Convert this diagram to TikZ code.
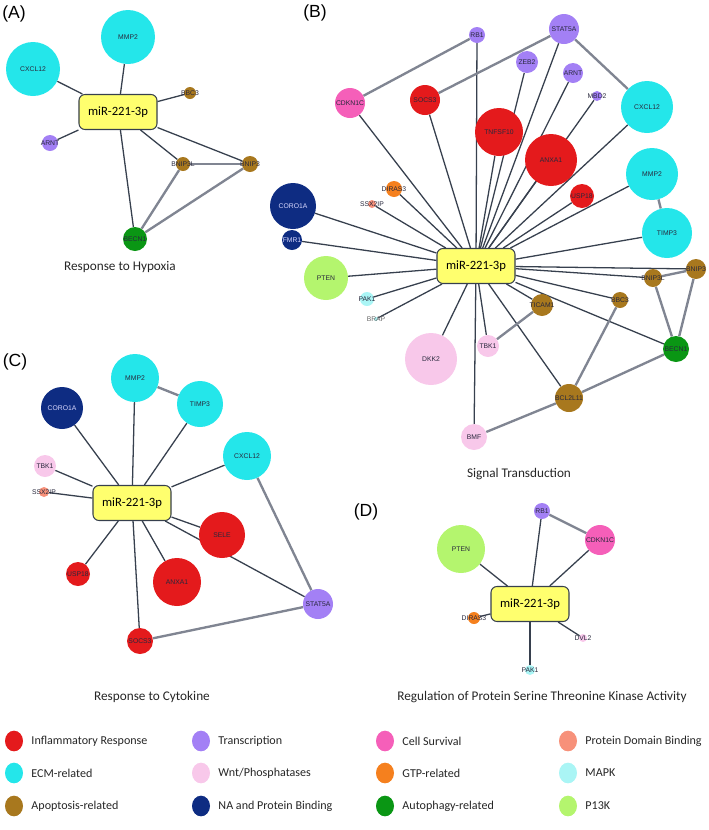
\documentclass[tikz,border=0pt]{standalone}
\usepackage{fontspec}
\setmainfont{Carlito}
\newfontfamily\arialfont{Liberation Sans}
\usetikzlibrary{positioning,backgrounds,shapes.geometric}
\definecolor{inflred}{RGB}{228,26,28}
\definecolor{ecmcyan}{RGB}{36,230,234}
\definecolor{apopbrown}{RGB}{168,120,30}
\definecolor{transpurple}{RGB}{163,128,245}
\definecolor{wntpink}{RGB}{248,200,234}
\definecolor{nablue}{RGB}{14,44,130}
\definecolor{survpink}{RGB}{245,95,185}
\definecolor{gtporange}{RGB}{245,128,30}
\definecolor{autogreen}{RGB}{10,150,20}
\definecolor{pdbsalmon}{RGB}{247,145,122}
\definecolor{mapkcyan}{RGB}{170,245,245}
\definecolor{pikgreen}{RGB}{180,245,110}
\definecolor{hubfill}{RGB}{255,255,110}
\definecolor{hubline}{RGB}{55,64,78}
\definecolor{linkgray}{RGB}{128,133,146}
\definecolor{genetext}{RGB}{40,40,60}
\tikzset{
  hub/.style={rectangle, rounded corners=0.18cm, draw=hubline, line width=0.9pt,
              fill=hubfill, minimum width=2.34cm, minimum height=1.05cm,
              font=\fontsize{10.8}{12}\selectfont},
  gene/.style={circle, inner sep=0pt, fill=#1},
  rad/.style={minimum size=#1*0.06cm},
  glabel/.style={inner sep=0pt, font=\arialfont\fontsize{5.8}{6}\selectfont, text=genetext},
  hubedge/.style={draw=hubline, line width=1.1pt},
  link/.style={draw=linkgray, line width=2pt},
  paneltag/.style={font=\arialfont\fontsize{15}{16}\selectfont},
  title/.style={font=\fontsize{11.3}{13}\selectfont, text=black!85},
  legdot/.style={ellipse, inner sep=0pt, minimum width=0.54cm, minimum height=0.62cm, fill=#1},
  legtext/.style={inner sep=0pt, font=\fontsize{10.3}{12}\selectfont, text=black!85},
}
\begin{document}
\begin{tikzpicture}[x=0.03cm, y=-0.03cm]
\useasboundingbox (0,0) rectangle (709,830);

% -------------------- (A) Response to Hypoxia --------------------
\node[paneltag] (tag-a) at (14,14) {(A)};
\node[hub] (a-hub) at (118,112) {miR-221-3p};
\node[gene=ecmcyan, rad=27, label={[glabel]center:MMP2}] (a-mmp2) at (128,37) {};
\node[gene=ecmcyan, rad=27, label={[glabel]center:CXCL12}] (a-cxcl12) at (33,69) {};
\node[gene=apopbrown, rad=6, label={[glabel]center:BBC3}] (a-bbc3) at (190,93) {};
\node[gene=transpurple, rad=8, label={[glabel]center:ARNT}] (a-arnt) at (50,143) {};
\node[gene=apopbrown, rad=7, label={[glabel]center:BNIP3L}] (a-bnip3l) at (183,164) {};
\node[gene=apopbrown, rad=8, label={[glabel]center:BNIP3}] (a-bnip3) at (250,164) {};
\node[gene=autogreen, rad=12, label={[glabel]center:BECN1}] (a-becn1) at (135,239) {};
\node[title] (title-a) at (120,267) {Response to Hypoxia};

% -------------------- (B) Signal Transduction --------------------
\node[paneltag] (tag-b) at (315,13) {(B)};
\node[hub] (b-hub) at (476,266) {miR-221-3p};
\node[gene=transpurple, rad=8, label={[glabel]center:RB1}] (b-rb1) at (477,35) {};
\node[gene=transpurple, rad=15, label={[glabel]center:STAT5A}] (b-stat5a) at (564,29) {};
\node[gene=transpurple, rad=11, label={[glabel]center:ZEB2}] (b-zeb2) at (527,62) {};
\node[gene=transpurple, rad=10, label={[glabel]center:ARNT}] (b-arnt) at (573,73) {};
\node[gene=transpurple, rad=5, label={[glabel]center:MBD2}] (b-mbd2) at (597,96) {};
\node[gene=ecmcyan, rad=26, label={[glabel]center:CXCL12}] (b-cxcl12) at (647,107) {};
\node[gene=inflred, rad=24, label={[glabel]center:TNFSF10}] (b-tnfsf10) at (499,132) {};
\node[gene=inflred, rad=26, label={[glabel]center:ANXA1}] (b-anxa1) at (551,160) {};
\node[gene=inflred, rad=12, label={[glabel]center:USP18}] (b-usp18) at (582,196) {};
\node[gene=ecmcyan, rad=26, label={[glabel]center:MMP2}] (b-mmp2) at (652,174) {};
\node[gene=ecmcyan, rad=25, label={[glabel]center:TIMP3}] (b-timp3) at (667,233) {};
\node[gene=survpink, rad=15, label={[glabel]center:CDKN1C}] (b-cdkn1c) at (350,103) {};
\node[gene=inflred, rad=15, label={[glabel]center:SOCS3}] (b-socs3) at (425,100) {};
\node[gene=gtporange, rad=8, label={[glabel]center:DIRAS3}] (b-diras3) at (394,189) {};
\node[gene=pdbsalmon, rad=4, label={[glabel]center:SSX2IP}] (b-ssx2ip) at (372,204) {};
\node[gene=nablue, rad=23, label={[glabel, text=white!85!blue]center:CORO1A}] (b-coro1a) at (293,206) {};
\node[gene=nablue, rad=10, label={[glabel, text=white!85!blue]center:FMR1}] (b-fmr1) at (292,240) {};
\node[gene=pikgreen, rad=22, label={[glabel]center:PTEN}] (b-pten) at (326,278) {};
\node[gene=mapkcyan, rad=7, label={[glabel]center:PAK1}] (b-pak1) at (367,299) {};
\node[gene=mapkcyan, rad=2, label={[glabel, text=black!60]center:BRAP}] (b-brap) at (376,319) {};
\node[gene=wntpink, rad=26, label={[glabel]center:DKK2}] (b-dkk2) at (431,359) {};
\node[gene=wntpink, rad=11, label={[glabel]center:TBK1}] (b-tbk1) at (488,346) {};
\node[gene=apopbrown, rad=11, label={[glabel]center:TICAM1}] (b-ticam1) at (542,305) {};
\node[gene=apopbrown, rad=8, label={[glabel]center:BBC3}] (b-bbc3) at (620,300) {};
\node[gene=apopbrown, rad=9, label={[glabel]center:BNIP3L}] (b-bnip3l) at (653,278) {};
\node[gene=apopbrown, rad=10, label={[glabel]center:BNIP3}] (b-bnip3) at (696,269) {};
\node[gene=autogreen, rad=13, label={[glabel]center:BECN1}] (b-becn1) at (676,349) {};
\node[gene=apopbrown, rad=14, label={[glabel]center:BCL2L11}] (b-bcl2l11) at (569,398) {};
\node[gene=wntpink, rad=13, label={[glabel]center:BMF}] (b-bmf) at (474,437) {};
\node[title] (title-b) at (519,474) {Signal Transduction};

% -------------------- (C) Response to Cytokine --------------------
\node[paneltag] (tag-c) at (15,362) {(C)};
\node[hub] (c-hub) at (132,503) {miR-221-3p};
\node[gene=ecmcyan, rad=24, label={[glabel]center:MMP2}] (c-mmp2) at (135,378) {};
\node[gene=ecmcyan, rad=23, label={[glabel]center:TIMP3}] (c-timp3) at (200,404) {};
\node[gene=nablue, rad=21, label={[glabel, text=white!85!blue]center:CORO1A}] (c-coro1a) at (62,408) {};
\node[gene=ecmcyan, rad=24, label={[glabel]center:CXCL12}] (c-cxcl12) at (247,456) {};
\node[gene=wntpink, rad=11, label={[glabel]center:TBK1}] (c-tbk1) at (45,466) {};
\node[gene=pdbsalmon, rad=5, label={[glabel]center:SSX2IP}] (c-ssx2ip) at (44,492) {};
\node[gene=inflred, rad=23, label={[glabel]center:SELE}] (c-sele) at (222,535) {};
\node[gene=inflred, rad=12, label={[glabel]center:USP18}] (c-usp18) at (78,574) {};
\node[gene=inflred, rad=24, label={[glabel]center:ANXA1}] (c-anxa1) at (177,582) {};
\node[gene=transpurple, rad=15, label={[glabel]center:STAT5A}] (c-stat5a) at (318,604) {};
\node[gene=inflred, rad=13, label={[glabel]center:SOCS3}] (c-socs3) at (140,641) {};
\node[title] (title-c) at (152,697) {Response to Cytokine};

% -------------------- (D) Protein Serine Threonine Kinase --------------------
\node[paneltag] (tag-d) at (366,512) {(D)};
\node[hub] (d-hub) at (530,604) {miR-221-3p};
\node[gene=transpurple, rad=8, label={[glabel]center:RB1}] (d-rb1) at (542,511) {};
\node[gene=survpink, rad=15, label={[glabel]center:CDKN1C}] (d-cdkn1c) at (600,540) {};
\node[gene=pikgreen, rad=24, label={[glabel]center:PTEN}] (d-pten) at (461,549) {};
\node[gene=gtporange, rad=6, label={[glabel]center:DIRAS3}] (d-diras3) at (474,618) {};
\node[gene=wntpink, rad=4, label={[glabel]center:DVL2}] (d-dvl2) at (583,638) {};
\node[gene=mapkcyan, rad=5, label={[glabel]center:PAK1}] (d-pak1) at (530,670) {};
\node[title] (title-d) at (542,697) {Regulation of Protein Serine Threonine Kinase Activity};

% -------------------- edges --------------------
\begin{scope}[on background layer]
  \foreach \g in {mmp2,cxcl12,bbc3,arnt,bnip3l,bnip3,becn1}
    \draw[hubedge] (a-hub) -- (a-\g);
  \draw[link] (a-bnip3l) -- (a-bnip3);
  \draw[link] (a-bnip3l) -- (a-becn1);
  \draw[link] (a-bnip3) -- (a-becn1);

  \foreach \g in {rb1,stat5a,zeb2,arnt,mbd2,cxcl12,tnfsf10,anxa1,usp18,mmp2,timp3,
                  cdkn1c,socs3,diras3,ssx2ip,coro1a,fmr1,pten,pak1,brap,dkk2,tbk1,
                  ticam1,bbc3,bnip3l,bnip3,becn1,bcl2l11,bmf}
    \draw[hubedge] (b-hub) -- (b-\g);
  \draw[link] (b-rb1) -- (b-cdkn1c);
  \draw[link] (b-stat5a) -- (b-socs3);
  \draw[link] (b-stat5a) -- (b-cxcl12);
  \draw[link] (b-mmp2) -- (b-timp3);
  \draw[link] (b-ticam1) -- (b-tbk1);
  \draw[link] (b-bnip3l) -- (b-bnip3);
  \draw[link] (b-bnip3l) -- (b-becn1);
  \draw[link] (b-bnip3) -- (b-becn1);
  \draw[link] (b-bbc3) -- (b-bcl2l11);
  \draw[link] (b-becn1) -- (b-bcl2l11);
  \draw[link] (b-bcl2l11) -- (b-bmf);

  \foreach \g in {mmp2,timp3,coro1a,cxcl12,tbk1,ssx2ip,sele,usp18,anxa1,stat5a,socs3}
    \draw[hubedge] (c-hub) -- (c-\g);
  \draw[link] (c-mmp2) -- (c-timp3);
  \draw[link] (c-cxcl12) -- (c-stat5a);
  \draw[link] (c-socs3) -- (c-stat5a);

  \foreach \g in {rb1,cdkn1c,pten,diras3,dvl2,pak1}
    \draw[hubedge] (d-hub) -- (d-\g);
  \draw[link] (d-rb1) -- (d-cdkn1c);
\end{scope}

% -------------------- legend --------------------
\foreach \c/\t/\x/\y [count=\i] in {
    inflred/Inflammatory Response/14/741, ecmcyan/ECM-related/14/773,
    apopbrown/Apoptosis-related/14/806,
    transpurple/Transcription/201/741, wntpink/{Wnt/Phosphatases}/201/773,
    nablue/NA and Protein Binding/201/806,
    survpink/Cell Survival/385/741, gtporange/GTP-related/385/773,
    autogreen/Autophagy-related/385/806,
    pdbsalmon/Protein Domain Binding/568/741, mapkcyan/MAPK/568/773,
    pikgreen/P13K/568/806}
{
  \node[legdot=\c] (leg\i) at (\x,\y) {};
  \node[legtext, right=0.24cm of leg\i] (legtext\i) {\t};
}

\end{tikzpicture}
\end{document}
